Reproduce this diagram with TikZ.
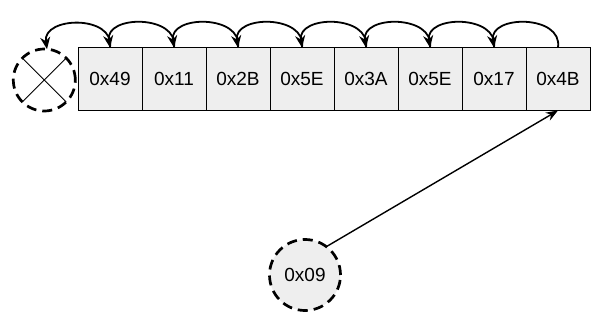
\documentclass[tikz,border=0pt]{standalone}
\usepackage{fontspec}
\setmainfont{Liberation Sans}
\usetikzlibrary{arrows.meta}
\begin{document}
\begin{tikzpicture}[x=1pt,y=-1pt,
  cell/.style={draw, line width=0.9pt, fill=gray!13, minimum width=64pt, minimum height=63pt,
    inner sep=0pt, outer sep=0pt, font=\fontsize{19}{19}\selectfont, anchor=north west},
  dcirc/.style={circle, draw, line width=2.7pt, dash pattern=on 10pt off 6pt, inner sep=0pt, outer sep=0pt},
  arc/.style={line width=1.8pt, -{Stealth[length=12pt,width=10pt]}},
  ptr/.style={line width=1.4pt, -{Stealth[length=12pt,width=9pt]}}]
\useasboundingbox (0,0) rectangle (606,326);
\foreach \i/\t in {0/0x49,1/0x11,2/0x2B,3/0x5E,4/0x3A,5/0x5E,6/0x17,7/0x4B}{
  \node[cell] (c\i) at (78+64*\i,47.5) {\t};
}
\node[dcirc, minimum size=62pt] (nil) at (44.3,80) {};
\draw[line width=0.8pt] (nil.135) -- (nil.315);
\draw[line width=0.8pt] (nil.45) -- (nil.225);
\foreach \i [evaluate=\i as \j using int(\i-1)] in {1,...,7}{
  \draw[arc] (c\i.north) .. controls +(5,-33) and +(-5,-33) .. (c\j.north);
}
\draw[arc] (c0.north) .. controls +(5,-33) and +(-5,-33) .. (nil.85);
\node[dcirc, fill=gray!13, minimum size=71pt, font=\fontsize{19}{19}\selectfont] (n09) at (305,275) {0x09};
\draw[ptr] (n09.53) -- (c7.south);
\end{tikzpicture}
\end{document}
